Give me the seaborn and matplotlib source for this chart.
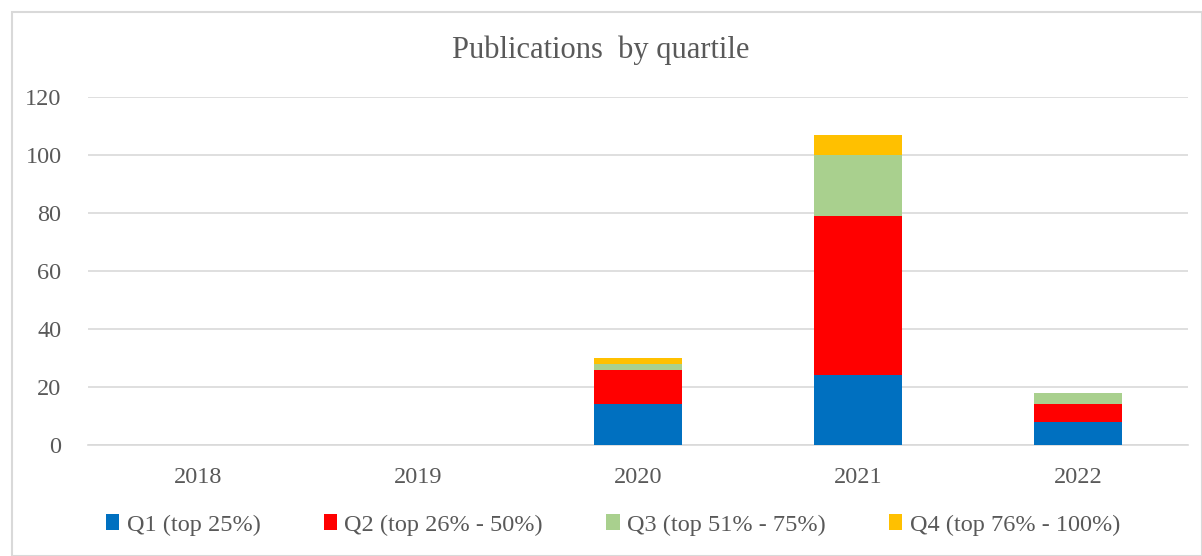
import matplotlib
matplotlib.use("Agg")
import matplotlib.pyplot as plt
import seaborn as sns
import pandas as pd
import numpy as np
from matplotlib.patches import Rectangle, Patch

years = ["2018", "2019", "2020", "2021", "2022"]
q1 = [0, 0, 14, 24, 8]
q2 = [0, 0, 12, 55, 6]
q3 = [0, 0, 2, 21, 4]
q4 = [0, 0, 2, 7, 0]
labels = ["Q1 (top 25%)", "Q2 (top 26% - 50%)", "Q3 (top 51% - 75%)", "Q4 (top 76% - 100%)"]
colors = ["#0070c0", "#ff0000", "#a9d08e", "#ffc000"]

sns.set_theme(style="white")
plt.rcParams['font.family'] = ['Liberation Serif', 'DejaVu Serif']
txt = "#595959"

fig = plt.figure(figsize=(12.02, 5.56), dpi=100)
ax = fig.add_axes([88/1202, 111/556, 1100/1202, 348/556])

series = [q1, q2, q3, q4]
cum = np.cumsum(np.array(series, dtype=float), axis=0)
for i in range(3, -1, -1):
    df = pd.DataFrame({"year": years, "val": cum[i]})
    sns.barplot(data=df, x="year", y="val", color=colors[i], width=0.4,
                saturation=1, ax=ax, zorder=3, edgecolor="none")

ax.set_ylim(0, 120)
ax.set_yticks(range(0, 121, 20))
ax.set_xlim(-0.5, 4.5)
ax.yaxis.grid(True, color="#d9d9d9", linewidth=1.2, zorder=0)
ax.set_axisbelow(True)
for s in ["top", "right", "left"]:
    ax.spines[s].set_visible(False)
ax.spines["bottom"].set_color("#d9d9d9")
ax.spines["bottom"].set_linewidth(1.2)
ax.set_xlabel("")
ax.set_ylabel("")
ax.tick_params(axis="both", length=0, labelsize=17.5, colors=txt)
ax.tick_params(axis="x", pad=16)
ax.tick_params(axis="y", pad=19)

fig.text(0.5, 1 - 50/556, "Publications  by quartile", ha="center", va="center",
         fontsize=22, color=txt)

handles = [Patch(facecolor=c, edgecolor="none") for c in colors]
fig.legend(handles, labels, loc="center", bbox_to_anchor=(0.51, 1 - 525/556), ncol=4,
           frameon=False, fontsize=17.5, labelcolor=txt, handlelength=0.55,
           handleheight=0.6, handletextpad=0.3, columnspacing=2.6)

fig.patches.append(Rectangle((12/1202, 0), 1 - 12/1202, 1 - 12/556, transform=fig.transFigure,
                             fill=False, edgecolor="#d9d9d9", linewidth=1.5))

fig.savefig("out.png", dpi=100)
